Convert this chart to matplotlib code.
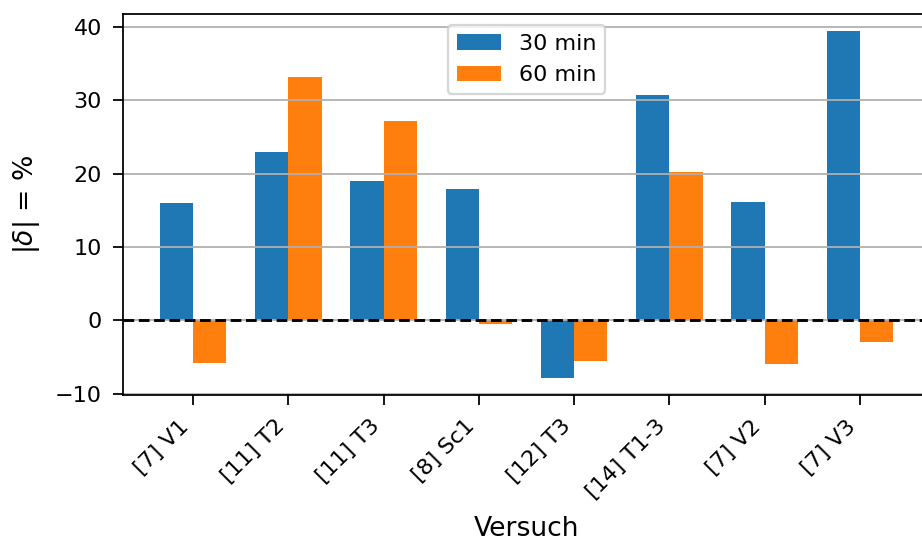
import numpy as np
import matplotlib
matplotlib.use("Agg")
import matplotlib.pyplot as plt

versuche = ["[7] V1", "[11] T2", "[11] T3", "[8] Sc1", "[12] T3",
            "[14] T1-3", "[7] V2", "[7] V3"]
delta_30 = [16.0, 23.0, 19.0, 17.9, -7.8, 30.7, 16.2, 39.4]
delta_60 = [-5.8, 33.2, 27.2, -0.5, -5.5, 20.2, -5.9, -3.0]

dpi = 160
fig = plt.figure(figsize=(922 / dpi, 544 / dpi), dpi=dpi)
ax = fig.add_axes([123 / 922, 149 / 544, 807 / 922, 381 / 544])

x = np.arange(len(versuche))
w = 0.35
ax.bar(x - w / 2, delta_30, w, label="30 min")
ax.bar(x + w / 2, delta_60, w, label="60 min")
ax.axhline(0, color="k", ls="--", lw=1.3)

ax.set_xticks(x)
ax.set_xticklabels(versuche, rotation=45, ha="right")
ax.tick_params(length=4.5, pad=5)
ax.grid(axis="y")
ax.set_ylabel(r"$|\delta|$ = %", fontsize=12, labelpad=6)
ax.set_xlabel("Versuch", fontsize=12, labelpad=6)
ax.legend(loc="upper center")

fig.savefig("out.png", dpi=dpi)
